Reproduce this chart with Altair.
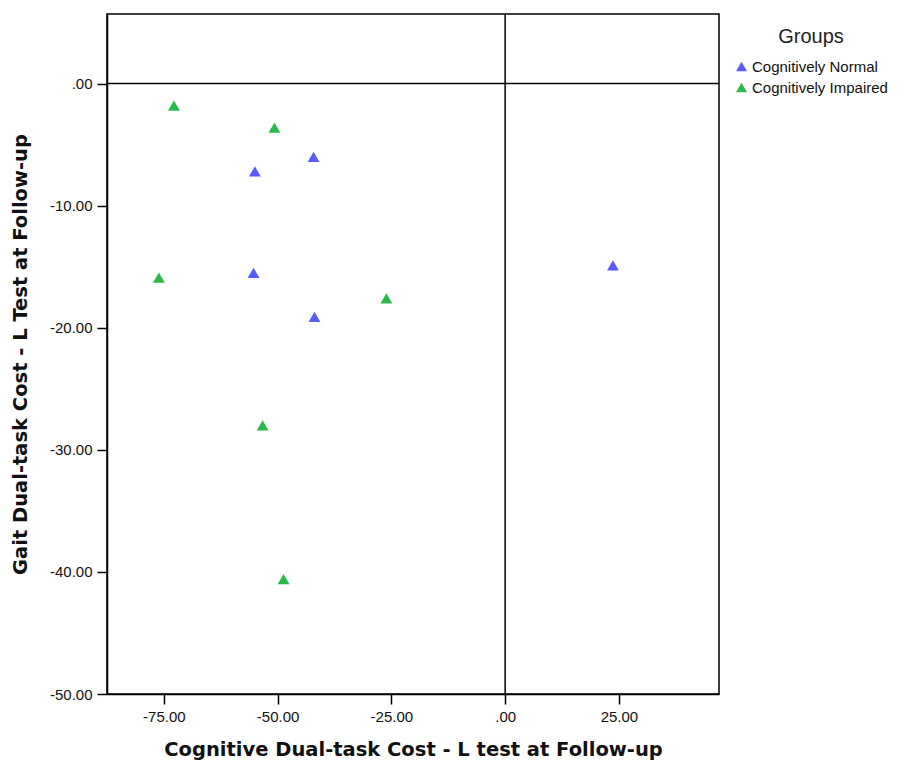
import altair as alt
import pandas as pd

# Data
groups = ["Cognitively Normal"] * 5 + ["Cognitively Impaired"] * 6
cog_cost = [-42.1, -55.0, -55.3, -41.9, 23.7,
            -72.8, -50.7, -76.1, -26.1, -53.3, -48.7]
gait_cost = [-6.0, -7.2, -15.5, -19.1, -14.9,
             -1.8, -3.6, -15.9, -17.6, -28.0, -40.6]

x_ticks = [-75, -50, -25, 0, 25]
y_ticks = [0, -10, -20, -30, -40, -50]
group_order = ["Cognitively Normal", "Cognitively Impaired"]
group_colors = ["#5a5aff", "#2db84a"]

df = pd.DataFrame({"group": groups, "x": cog_cost, "y": gait_cost})

label_expr = "datum.value == 0 ? '.00' : replace(format(datum.value, '.2f'), '\u2212', '-')"

x_scale = alt.Scale(domain=[-87.5, 47], nice=False, zero=False)
y_scale = alt.Scale(domain=[-50, 5.7], nice=False, zero=False)

points = alt.Chart(df).mark_point(shape="triangle-up", filled=True, opacity=1, size=140).encode(
    x=alt.X("x:Q", scale=x_scale,
            axis=alt.Axis(values=x_ticks, labelExpr=label_expr, grid=False,
                          title="Cognitive Dual-task Cost - L test at Follow-up",
                          titleY=55, titleBaseline="middle")),
    y=alt.Y("y:Q", scale=y_scale,
            axis=alt.Axis(values=y_ticks, labelExpr=label_expr, grid=False,
                          title="Gait Dual-task Cost - L Test at Follow-up",
                          titleX=-87, titleY=340, titleBaseline="middle")),
    color=alt.Color("group:N", scale=alt.Scale(domain=group_order, range=group_colors),
                    legend=alt.Legend(title="Groups", orient="none", legendX=627, legendY=13,
                                      symbolType="triangle-up", symbolSize=120,
                                      titleAnchor="middle", titleFontSize=20,
                                      titleFontWeight="normal", titleColor="#222",
                                      labelFontSize=15, labelColor="#111", labelOffset=3,
                                      labelLimit=300,
                                      symbolStrokeWidth=0, rowPadding=5, titlePadding=12)),
)

ref_df = pd.DataFrame({"v": [0]})
vline = alt.Chart(ref_df).mark_rule(color="black", strokeWidth=1.5).encode(x=alt.X("v:Q", scale=x_scale))
hline = alt.Chart(ref_df).mark_rule(color="black", strokeWidth=1.5).encode(y=alt.Y("v:Q", scale=y_scale))

chart = alt.layer(vline, hline, points).properties(
    width=612, height=680,
    background="white",
    autosize=alt.AutoSizeParams(type="none"),
    padding={"left": 99, "top": 6, "right": 175, "bottom": 68},
).configure_view(stroke="black", strokeWidth=1.5).configure_axis(
    domainColor="black", domainWidth=1.5, tickColor="black", tickWidth=1.5, tickSize=10,
    labelFont="Liberation Sans", labelFontSize=15, labelColor="#111", labelPadding=5,
    titleFont="DejaVu Sans", titleFontSize=19.5, titleFontWeight="bold", titleColor="#111",
).configure_legend(
    titleFont="Liberation Sans", labelFont="Liberation Sans",
)

chart.save("out.html", embed_options={"renderer": "svg", "actions": False})
